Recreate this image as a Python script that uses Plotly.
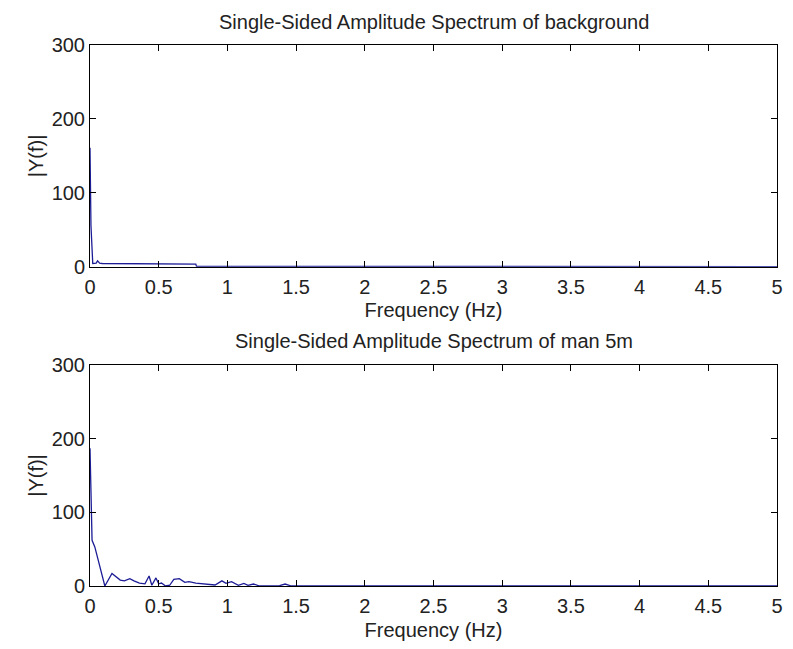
import plotly.graph_objects as go
from plotly.subplots import make_subplots

# Spectrum of background (Hz, |Y(f)|)
bg_freq = [0.0, 0.007, 0.02, 0.045, 0.055, 0.07, 0.09, 0.5, 0.505, 0.77, 0.775,
           1.5, 2.0, 2.5, 3.0, 3.5, 4.0, 4.5, 5.0]
bg_amp = [161, 56, 4.5, 5.0, 8.0, 5.0, 4.5, 4.5, 3.6, 3.6, 0.6,
          0.5, 0.4, 0.4, 0.3, 0.3, 0.3, 0.3, 0.3]

# Spectrum of man at 5 m (Hz, |Y(f)|)
man_freq = [0.0, 0.007, 0.015, 0.035, 0.108, 0.16, 0.22, 0.25, 0.29, 0.32, 0.36,
            0.40, 0.43, 0.45, 0.48, 0.50, 0.52, 0.55, 0.58, 0.61, 0.65, 0.69,
            0.72, 0.77, 0.84, 0.91, 0.96, 0.99, 1.03, 1.08, 1.12, 1.15, 1.19,
            1.23, 1.38, 1.42, 1.46, 2.0, 2.5, 3.0, 3.5, 4.0, 4.5, 5.0]
man_amp = [187, 103, 62, 53, 0, 17, 8, 7, 10, 7, 4,
           3, 13.6, 1, 11, 3, 4, 0, 1, 9, 10, 5,
           6, 4, 3, 1.4, 7, 3.6, 6, 1, 3.6, 1, 2.7,
           0.3, 0.5, 2.7, 0.3, 0.4, 0.3, 0.3, 0.3, 0.3, 0.3, 0.3]

titles = ["Single-Sided Amplitude Spectrum of background",
          "Single-Sided Amplitude Spectrum of man 5m"]
x_ticks = [0, 0.5, 1, 1.5, 2, 2.5, 3, 3.5, 4, 4.5, 5]
y_ticks = [0, 100, 200, 300]

FONT = "Liberation Sans, Arial, sans-serif"
TXT = "#222222"
LINE = "#1c1c96"
FS = 20

fig = make_subplots(rows=2, cols=1)
fig.add_trace(go.Scatter(x=bg_freq, y=bg_amp, mode="lines",
                         line=dict(color=LINE, width=1.3)), row=1, col=1)
fig.add_trace(go.Scatter(x=man_freq, y=man_amp, mode="lines",
                         line=dict(color=LINE, width=1.3)), row=2, col=1)

axis_common = dict(showline=True, linecolor="black", linewidth=1, mirror="ticks",
                   ticks="inside", ticklen=6, tickcolor="black", showgrid=False,
                   zeroline=False, tickfont=dict(family=FONT, size=FS, color=TXT))

for r, dom in [(1, [0.59, 1.0]), (2, [0.0, 0.4085])]:
    fig.update_xaxes(range=[0, 5], tickvals=x_ticks, domain=[0, 1],
                     title=dict(text="Frequency (Hz)", standoff=6,
                                font=dict(family=FONT, size=FS, color=TXT)),
                     ticklabelstandoff=2, **axis_common, row=r, col=1)
    fig.update_yaxes(range=[0, 300], tickvals=y_ticks, domain=dom,
                     title=dict(text="|Y(f)|", standoff=2,
                                font=dict(family=FONT, size=FS, color=TXT)),
                     **axis_common, row=r, col=1)

annots = []
for t, ypix in zip(titles, [22, 341]):
    annots.append(dict(text=t, xref="paper", yref="paper", x=0.5,
                       y=(586 - ypix) / 541, xanchor="center", yanchor="middle",
                       showarrow=False, font=dict(family=FONT, size=FS, color=TXT)))

fig.update_layout(width=793, height=649, margin=dict(l=90, r=10, t=45, b=63),
                  paper_bgcolor="white", plot_bgcolor="white", showlegend=False,
                  annotations=annots)

fig.write_html("out.html", config={"displayModeBar": False})
